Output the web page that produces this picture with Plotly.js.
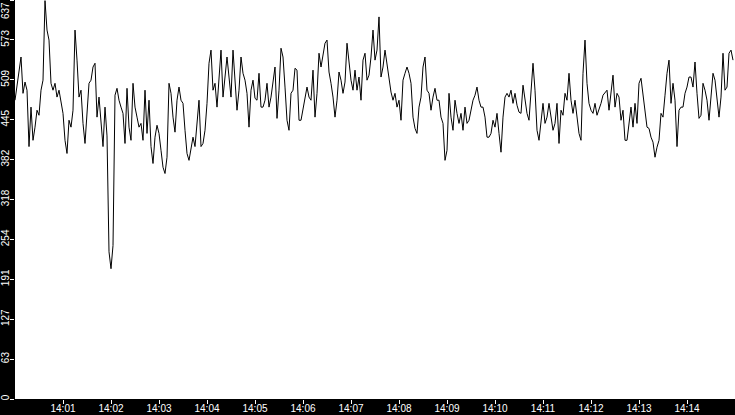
<!DOCTYPE html>
<html>
<head>
<meta charset="utf-8">
<script src="https://cdn.plot.ly/plotly-3.0.1.min.js"></script>
<style>
  html, body { margin: 0; padding: 0; background: #000; }
  #chart { width: 735px; height: 415px; }
</style>
</head>
<body>
<div id="chart"></div>
<script>
// samples every 2.5 s starting 14:00:00
var startHour = 14;
var stepSeconds = 2.5;

var values = [
  // 14:00:00 - 14:02:27
  477,498,522,546,488,506,493,403,466,413,434,461,453,493,509,636,589,573,504,493,
  504,482,493,472,456,413,392,445,434,461,589,541,482,493,440,408,466,504,509,530,
  536,450,482,440,403,466,420,235,208,245,485,496,477,466,456,408,496,434,413,504,
  // 14:02:30 - 14:04:57
  466,450,434,440,413,493,424,477,403,376,418,437,424,397,370,360,386,504,488,450,
  426,477,498,477,472,429,392,381,397,418,403,445,477,403,408,429,472,536,557,493,
  504,466,514,557,482,520,546,514,482,557,509,461,493,546,520,509,488,434,493,509,
  // 14:05:00 - 14:07:27
  480,477,520,466,466,477,504,466,482,509,530,448,493,560,546,498,445,429,488,493,
  528,525,445,445,461,477,498,482,477,525,450,488,552,530,552,568,573,522,504,482,
  450,477,522,509,488,506,568,538,509,493,525,493,514,477,541,552,509,517,546,589,
  // 14:07:30 - 14:09:57
  541,557,610,514,530,557,536,509,490,477,488,466,477,445,509,520,530,520,504,450,
  432,424,466,482,530,546,493,488,461,482,496,477,477,450,440,381,397,488,450,429,
  477,456,440,456,429,466,440,445,464,477,485,498,477,466,466,450,418,418,424,445,
  // 14:10:00 - 14:12:27
  434,456,424,394,450,482,488,482,493,472,488,469,458,456,501,482,456,445,498,536,
  493,429,413,445,472,440,450,472,450,429,440,472,408,461,453,488,477,520,477,456,
  477,445,424,413,520,573,504,472,461,456,472,453,461,472,485,490,493,461,488,517,
  // 14:12:30 - 14:14:57
  466,488,482,445,461,413,413,440,466,434,472,440,504,512,488,461,434,432,418,410,
  386,402,413,456,450,485,520,541,472,504,477,403,461,466,466,488,498,514,514,498,
  538,488,448,453,504,493,477,445,488,520,509,482,450,482,552,493,498,552,557,541
];

var timeTicks = ["14:01","14:02","14:03","14:04","14:05","14:06","14:07",
                 "14:08","14:09","14:10","14:11","14:12","14:13","14:14"];
var yTickValues = [0, 63.7, 127.4, 191.1, 254.8, 318.5, 382.2, 445.9, 509.6, 573.3, 637];
var yTickLabels = ["0","63","127","191","254","318","382","445","509","573","637"];

function pad(n) { return (n < 10 ? "0" : "") + n; }
function stamp(sec) {
  var m = Math.floor(sec / 60);
  var s = sec - m * 60;
  var whole = Math.floor(s);
  var frac = Math.round((s - whole) * 10);
  return "2024-01-01 " + pad(startHour) + ":" + pad(m) + ":" + pad(whole) + "." + frac;
}

var times = [];
for (var i = 0; i < values.length; i++) {
  times.push(stamp(i * stepSeconds));
}

var trace = {
  x: times,
  y: values,
  type: "scatter",
  mode: "lines",
  line: { color: "#000", width: 1 },
  hoverinfo: "none"
};

// top label would be cut at the edge, so it goes in as an annotation pushed down
var lastIdx = yTickLabels.length - 1;
var axisLabels = yTickLabels.slice(0, lastIdx).concat([""]);

var layout = {
  width: 735,
  height: 415,
  margin: { l: 15, r: 0, t: 0, b: 16, pad: 0 },
  paper_bgcolor: "#000",
  plot_bgcolor: "#fff",
  showlegend: false,
  font: { family: "Liberation Sans, Arial, sans-serif", size: 10, color: "#fff" },
  xaxis: {
    type: "date",
    range: ["2024-01-01 14:00:00", "2024-01-01 14:15:00"],
    tickvals: timeTicks.map(function (t) { return "2024-01-01 " + t + ":00"; }),
    ticktext: timeTicks,
    ticks: "outside",
    ticklen: 4,
    tickcolor: "#fff",
    ticklabelstandoff: -4,
    showgrid: false,
    zeroline: false,
    showline: false,
    automargin: false
  },
  yaxis: {
    range: [0, 637],
    tickvals: yTickValues,
    ticktext: axisLabels,
    tickangle: -90,
    ticks: "outside",
    ticklen: 4,
    tickcolor: "#fff",
    ticklabelstandoff: -3,
    showgrid: false,
    zeroline: false,
    showline: false,
    automargin: false
  },
  annotations: [{
    text: yTickLabels[lastIdx],
    xref: "paper", x: 0, xanchor: "right", xshift: -3,
    yref: "y", y: yTickValues[lastIdx], yanchor: "top", yshift: -1,
    textangle: -90,
    showarrow: false,
    font: { size: 10, color: "#fff" },
    borderpad: 0
  }]
};

Plotly.newPlot("chart", [trace], layout, { staticPlot: true, displayModeBar: false });
</script>
</body>
</html>
